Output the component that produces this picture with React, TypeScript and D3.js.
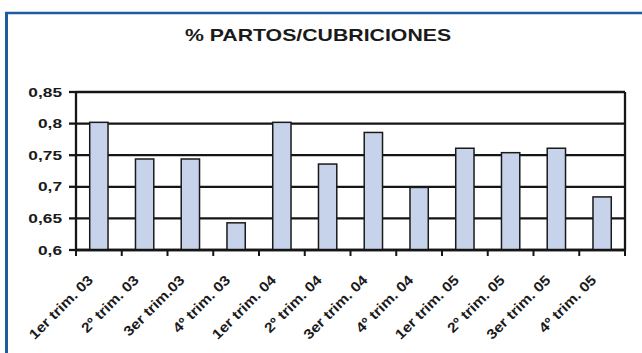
import React from "react";
import * as d3 from "d3";

const categories = [
  "1er trim. 03", "2º trim. 03", "3er trim.03", "4º trim. 03",
  "1er trim. 04", "2º trim. 04", "3er trim. 04", "4º trim. 04",
  "1er trim. 05", "2º trim. 05", "3er trim. 05", "4º trim. 05",
];
const values = [0.802, 0.744, 0.744, 0.643, 0.802, 0.736, 0.786, 0.699, 0.761, 0.754, 0.761, 0.684];
const yTicks = [0.6, 0.65, 0.7, 0.75, 0.8, 0.85];
const yTickLabels = ["0,6", "0,65", "0,7", "0,75", "0,8", "0,85"];
const title = "% PARTOS/CUBRICIONES";

const W = 642;
const H = 353;
const SX = 1.33; // horizontal stretch of the reference image
const FONT = "'Liberation Sans', Arial, sans-serif";

export default function App() {
  const x = d3.scaleBand<string>().domain(categories).range([76, 625]).padding(0);
  const y = d3.scaleLinear().domain([0.6, 0.85]).range([250, 92]);
  const bw = x.bandwidth() * 0.4;
  const [x0, x1] = x.range();
  const boundaries = categories.map((c) => x(c)!).concat([x1]);

  return (
    <svg width={W} height={H} style={{ position: "absolute", left: 0, top: 0, background: "#fff" }}>
      <rect x={0} y={0} width={W} height={H} fill="#fff" />
      {/* blue frame */}
      <line x1={6.5} x2={6.5} y1={12} y2={H} stroke="#1f5c9e" strokeWidth={3} />
      <line x1={5} x2={W} y1={13} y2={13} stroke="#1f5c9e" strokeWidth={2.5} />

      {/* title */}
      <text
        transform={`translate(318,41) scale(${SX},1)`}
        textAnchor="middle"
        fontFamily={FONT}
        fontWeight="bold"
        fontSize={16}
        fill="#1a1a1a"
      >
        {title}
      </text>

      {/* gridlines */}
      {yTicks.map((t) => (
        <line key={"g" + t} x1={x0} x2={x1} y1={y(t)} y2={y(t)} stroke="#151515" strokeWidth={2.3} />
      ))}
      {/* right border */}
      <line x1={x1} x2={x1} y1={y(0.85)} y2={y(0.6)} stroke="#151515" strokeWidth={2.3} />

      {/* bars */}
      {categories.map((c, i) => {
        const cx = x(c)! + x.bandwidth() / 2;
        return (
          <rect
            key={c}
            x={cx - bw / 2}
            y={y(values[i])}
            width={bw}
            height={y(0.6) - y(values[i])}
            fill="#c6d3ea"
            stroke="#1a1a1a"
            strokeWidth={1.5}
          />
        );
      })}

      {/* y axis */}
      <line x1={x0} x2={x0} y1={y(0.85) - 1} y2={y(0.6) + 1} stroke="#151515" strokeWidth={2.3} />
      {yTicks.map((t, i) => (
        <g key={"yt" + t}>
          <line x1={x0 - 7} x2={x0} y1={y(t)} y2={y(t)} stroke="#151515" strokeWidth={2.3} />
          <text
            transform={`translate(62,${y(t)}) scale(${SX},1)`}
            textAnchor="end"
            dy="0.36em"
            fontFamily={FONT}
            fontWeight="bold"
            fontSize={13}
            fill="#1a1a1a"
          >
            {yTickLabels[i]}
          </text>
        </g>
      ))}

      {/* x axis */}
      <line x1={x0 - 1} x2={x1 + 1} y1={y(0.6)} y2={y(0.6)} stroke="#151515" strokeWidth={2.3} />
      {boundaries.map((b, i) => (
        <line key={"xt" + i} x1={b} x2={b} y1={y(0.6)} y2={y(0.6) + 6} stroke="#151515" strokeWidth={2} />
      ))}
      {categories.map((c) => {
        const cx = x(c)! + x.bandwidth() / 2;
        return (
          <text
            key={"xl" + c}
            transform={`translate(${cx - 5},281) rotate(-45) scale(1.12,1)`}
            textAnchor="end"
            fontFamily={FONT}
            fontWeight="bold"
            fontSize={14}
            fill="#1a1a1a"
          >
            {c}
          </text>
        );
      })}
    </svg>
  );
}
